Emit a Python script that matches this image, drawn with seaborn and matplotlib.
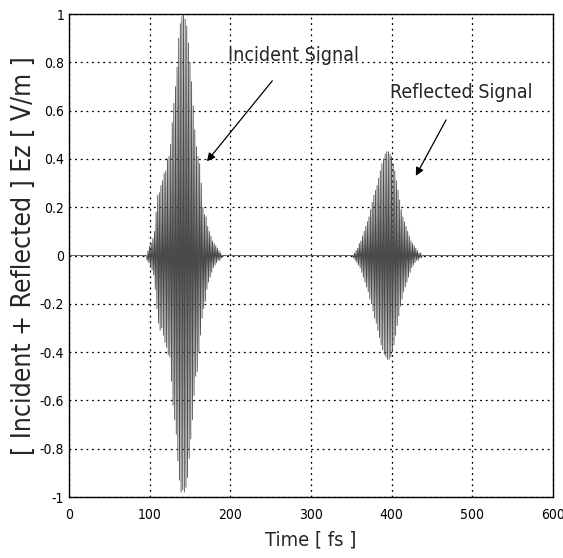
import matplotlib
matplotlib.use("Agg")
import matplotlib.pyplot as plt
import pandas as pd
import seaborn as sns

# incident pulse: extrema, one per fs
inc_t = [96, 97, 98, 99, 100, 101, 102, 103, 104, 105,
         106, 107, 108, 109, 110, 111, 112, 113, 114, 115,
         116, 117, 118, 119, 120, 121, 122, 123, 124, 125,
         126, 127, 128, 129, 130, 131, 132, 133, 134, 135,
         136, 137, 138, 139, 140, 141, 142, 143, 144, 145,
         146, 147, 148, 149, 150, 151, 152, 153, 154, 155,
         156, 157, 158, 159, 160, 161, 162, 163, 164, 165,
         166, 167, 168, 169, 170, 171, 172, 173, 174, 175,
         176, 177, 178, 179, 180, 181, 182, 183, 184, 185,
         186, 187, 188, 189, 190]
inc_v = [0.0, -0.02, 0.02, -0.03, 0.04, -0.05, 0.05, -0.06, 0.07, -0.08,
         0.10, -0.14, 0.18, -0.22, 0.25, -0.28, 0.26, -0.31, 0.29, -0.30,
         0.31, -0.33, 0.34, -0.36, 0.35, -0.38, 0.40, -0.41, 0.41, -0.42,
         0.46, -0.52, 0.55, -0.62, 0.63, -0.68, 0.70, -0.74, 0.78, -0.85,
         0.90, -0.93, 0.96, -0.98, 0.99, -0.97, 1.00, -0.98, 0.98, -0.96,
         0.95, -0.92, 0.88, -0.84, 0.80, -0.76, 0.72, -0.68, 0.62, -0.58,
         0.52, -0.50, 0.45, -0.48, 0.41, -0.40, 0.38, -0.33, 0.30, -0.26,
         0.20, -0.22, 0.17, -0.19, 0.16, -0.14, 0.12, -0.11, 0.10, -0.09,
         0.08, -0.07, 0.06, -0.05, 0.05, -0.04, 0.04, -0.03, 0.03, -0.02,
         0.02, -0.02, 0.01, -0.01, 0.0]

# reflected pulse
ref_t = [352, 353, 354, 355, 356, 357, 358, 359, 360, 361,
         362, 363, 364, 365, 366, 367, 368, 369, 370, 371,
         372, 373, 374, 375, 376, 377, 378, 379, 380, 381,
         382, 383, 384, 385, 386, 387, 388, 389, 390, 391,
         392, 393, 394, 395, 396, 397, 398, 399, 400, 401,
         402, 403, 404, 405, 406, 407, 408, 409, 410, 411,
         412, 413, 414, 415, 416, 417, 418, 419, 420, 421,
         422, 423, 424, 425, 426, 427, 428, 429, 430, 431,
         432, 433, 434, 435, 436, 437, 438, 439, 440]
ref_v = [0.0, -0.01, 0.01, -0.02, 0.02, -0.03, 0.03, -0.04, 0.05, -0.05,
         0.06, -0.07, 0.08, -0.09, 0.10, -0.11, 0.12, -0.13, 0.14, -0.15,
         0.16, -0.18, 0.19, -0.20, 0.22, -0.23, 0.25, -0.26, 0.27, -0.28,
         0.29, -0.31, 0.32, -0.34, 0.35, -0.37, 0.38, -0.39, 0.40, -0.41,
         0.42, -0.42, 0.43, -0.43, 0.43, -0.43, 0.42, -0.42, 0.41, -0.40,
         0.38, -0.37, 0.35, -0.33, 0.31, -0.29, 0.27, -0.25, 0.23, -0.21,
         0.19, -0.18, 0.16, -0.15, 0.14, -0.13, 0.12, -0.11, 0.10, -0.09,
         0.08, -0.07, 0.06, -0.05, 0.05, -0.04, 0.04, -0.03, 0.03, -0.02,
         0.02, -0.02, 0.01, -0.01, 0.01, -0.01, 0.0, 0.0, 0.0]

x_ticks = [0, 100, 200, 300, 400, 500, 600]
y_ticks = [-1, -0.8, -0.6, -0.4, -0.2, 0, 0.2, 0.4, 0.6, 0.8, 1]
y_labels = ["-1", "-0.8", "-0.6", "-0.4", "-0.2", "0", "0.2", "0.4", "0.6", "0.8", "1"]

df = pd.DataFrame(dict(
    t=[0] + inc_t + ref_t + [600],
    ez=[0.0] + inc_v + ref_v + [0.0],
))

sns.set_style("white")
plt.rcParams["font.family"] = ["DejaVu Sans"]
plt.rcParams["font.stretch"] = "condensed"

fig = plt.figure(figsize=(5.63, 5.58), dpi=100)
ax = fig.add_axes([0.1226, 0.1093, 0.8594, 0.8656])
sns.lineplot(data=df, x="t", y="ez", ax=ax, color="#4a4a4a", lw=0.6,
             estimator=None, sort=False)

ax.set_xlim(0, 600)
ax.set_ylim(-1, 1)
ax.set_xticks(x_ticks)
ax.set_yticks(y_ticks)
ax.set_yticklabels(y_labels)
ax.tick_params(direction="in", length=5, labelsize=10, colors="black")
ax.tick_params(axis="x", pad=8)
ax.grid(True, color="black", linestyle=(0, (1.5, 3)), linewidth=0.9)
for s in ax.spines.values():
    s.set_color("black")
    s.set_linewidth(1.0)

ax.set_xlabel("Time [ fs ]", fontsize=14.5, labelpad=6)
ax.set_ylabel("[ Incident + Reflected ] Ez [ V/m ]", fontsize=19, labelpad=2)

ax.annotate("Incident Signal", xy=(171, 0.39), xytext=(278, 0.83),
            fontsize=14, ha="center", va="center",
            arrowprops=dict(arrowstyle="-|>", color="black", lw=0.9,
                            mutation_scale=12, shrinkA=12, shrinkB=0))
ax.annotate("Reflected Signal", xy=(430, 0.33), xytext=(486, 0.675),
            fontsize=14, ha="center", va="center",
            arrowprops=dict(arrowstyle="-|>", color="black", lw=0.9,
                            mutation_scale=12, shrinkA=12, shrinkB=0))

fig.savefig("out.png", dpi=100)
